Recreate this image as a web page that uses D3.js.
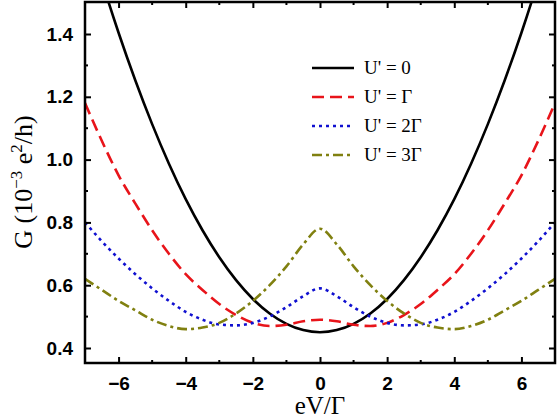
<!DOCTYPE html>
<html>
<head>
<meta charset="UTF-8">
<script src="https://d3js.org/d3.v7.min.js"></script>
<style>
  body { margin: 0; background: #fff; }
  .tick text { font-family: Arial, "Liberation Sans", sans-serif; font-weight: bold; font-size: 19px; }
</style>
</head>
<body>
<svg id="chart" width="558" height="419"></svg>
<script>
// bias values eV/Gamma
const xs = [-7,-6.5,-6,-5.5,-5,-4.5,-4,-3.5,-3,-2.5,-2,-1.5,-1,-0.5,0,0.5,1,1.5,2,2.5,3,3.5,4,4.5,5,5.5,6,6.5,7];
// G (10^-3 e^2/h)
const g0 = [1.75,1.57,1.404,1.252,1.113,0.987,0.874,0.775,0.689,0.616,0.556,0.51,0.477,0.457,0.45,0.457,0.477,0.51,0.556,0.616,0.689,0.775,0.874,0.987,1.113,1.252,1.404,1.57,1.75];
const g1 = [1.18,1.06,0.95,0.86,0.775,0.70,0.635,0.585,0.54,0.505,0.48,0.47,0.474,0.485,0.49,0.485,0.474,0.47,0.48,0.505,0.54,0.585,0.635,0.70,0.775,0.86,0.95,1.06,1.18];
const g2 = [0.80,0.74,0.685,0.635,0.59,0.55,0.515,0.49,0.475,0.472,0.48,0.50,0.53,0.565,0.59,0.565,0.53,0.50,0.48,0.472,0.475,0.49,0.515,0.55,0.59,0.635,0.685,0.74,0.80];
const g3 = [0.62,0.585,0.55,0.52,0.49,0.47,0.46,0.465,0.48,0.51,0.55,0.60,0.66,0.73,0.78,0.73,0.66,0.60,0.55,0.51,0.48,0.465,0.46,0.47,0.49,0.52,0.55,0.585,0.62];
const labels = ["U' = 0", "U' = \u0393", "U' = 2\u0393", "U' = 3\u0393"];
const colors = ["#000000", "#e8141a", "#1010d0", "#808010"];
const dashes = [null, "12,6", "3,4", "10,4,3,4"];

const svg = d3.select("#chart");
const L = 85, R = 555, T = 2, B = 363;
const x = d3.scaleLinear().domain([-7, 7]).range([L, R]);
const y = d3.scaleLinear().domain([0.4, 1.4]).range([348, 34]);

svg.append("clipPath").attr("id", "clip")
  .append("rect").attr("x", L).attr("y", T).attr("width", R - L).attr("height", B - T);

const line = d3.line().x((d, i) => x(xs[i])).y(d => y(d)).curve(d3.curveMonotoneX);
[g0, g1, g2, g3].forEach((s, k) => {
  svg.append("path").attr("d", line(s)).attr("clip-path", "url(#clip)")
    .attr("fill", "none").attr("stroke", colors[k]).attr("stroke-width", 2.6)
    .attr("stroke-dasharray", dashes[k]);
});

// axes (inward ticks, mirrored)
const xt = [-6,-4,-2,0,2,4,6], xm = [-5,-3,-1,1,3,5];
const yt = [0.4,0.6,0.8,1.0,1.2,1.4], ym = [0.5,0.7,0.9,1.1,1.3];
svg.append("g").attr("transform", `translate(0,${B})`)
  .call(d3.axisBottom(x).tickValues(xt).tickSize(-6).tickPadding(14).tickFormat(d3.format("d")))
  .call(g => g.select(".domain").remove());
svg.append("g").attr("transform", `translate(${L},0)`)
  .call(d3.axisLeft(y).tickValues(yt).tickSize(-6).tickPadding(12).tickFormat(d3.format(".1f")))
  .call(g => g.select(".domain").remove());
svg.selectAll(".tick line").attr("stroke-width", 2);
svg.append("g").attr("transform", `translate(0,${T})`)
  .call(d3.axisTop(x).tickValues(xt).tickSize(-6).tickFormat(""))
  .call(g => g.select(".domain").remove()).selectAll("line").attr("stroke-width", 2);
svg.append("g").attr("transform", `translate(${R},0)`)
  .call(d3.axisRight(y).tickValues(yt).tickSize(-6).tickFormat(""))
  .call(g => g.select(".domain").remove()).selectAll("line").attr("stroke-width", 2);
xm.forEach(v => {
  svg.append("line").attr("x1", x(v)).attr("x2", x(v)).attr("y1", B).attr("y2", B - 3).attr("stroke", "#000").attr("stroke-width", 2);
  svg.append("line").attr("x1", x(v)).attr("x2", x(v)).attr("y1", T).attr("y2", T + 3).attr("stroke", "#000").attr("stroke-width", 2);
});
ym.forEach(v => {
  svg.append("line").attr("x1", L).attr("x2", L + 3).attr("y1", y(v)).attr("y2", y(v)).attr("stroke", "#000").attr("stroke-width", 2);
  svg.append("line").attr("x1", R).attr("x2", R - 3).attr("y1", y(v)).attr("y2", y(v)).attr("stroke", "#000").attr("stroke-width", 2);
});
svg.append("rect").attr("x", L).attr("y", T).attr("width", R - L).attr("height", B - T)
  .attr("fill", "none").attr("stroke", "#000").attr("stroke-width", 2.5);

// legend
labels.forEach((t, k) => {
  const ly = 68 + k * 29;
  svg.append("line").attr("x1", 312).attr("x2", 354).attr("y1", ly).attr("y2", ly)
    .attr("stroke", colors[k]).attr("stroke-width", 2.6).attr("stroke-dasharray", dashes[k]);
  svg.append("text").attr("x", 364).attr("y", ly + 6).text(t)
    .attr("font-family", "'Liberation Serif', 'Times New Roman', serif").attr("font-size", 19);
});

// axis titles
svg.append("text").attr("x", 320).attr("y", 414).attr("text-anchor", "middle")
  .attr("font-family", "'Liberation Serif', serif").attr("font-size", 25).text("eV/\u0393");
const yl = svg.append("text").attr("transform", "translate(32,182) rotate(-90)").attr("text-anchor", "middle")
  .attr("font-family", "'Liberation Serif', serif").attr("font-size", 26);
yl.append("tspan").text("G (10");
yl.append("tspan").attr("dy", -10).attr("font-size", 17).text("\u22123");
yl.append("tspan").attr("dy", 10).text(" e");
yl.append("tspan").attr("dy", -10).attr("font-size", 17).text("2");
yl.append("tspan").attr("dy", 10).text("/h)");
</script>
</body>
</html>
